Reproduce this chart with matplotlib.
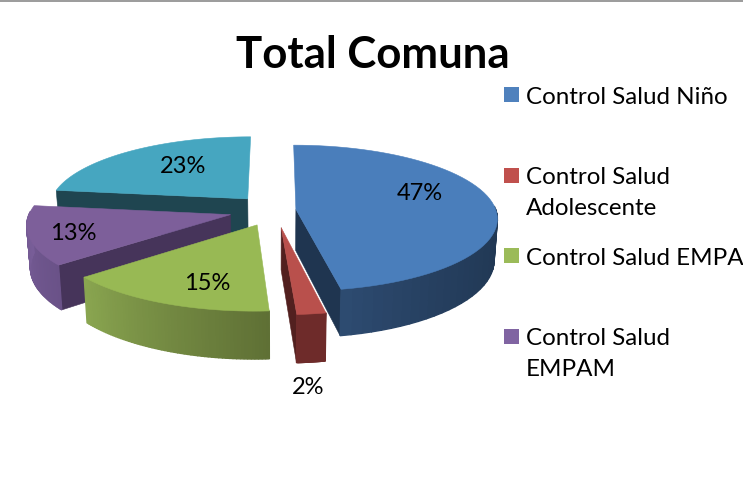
import numpy as np
import matplotlib
matplotlib.use("Agg")
import matplotlib.pyplot as plt
from matplotlib.colors import to_rgb
from matplotlib.patches import Polygon, Rectangle


# ===================================================
# DATA
# ===================================================

TITLE = "Total Comuna"
VALUES = [47, 2, 15, 13, 23]
LEGEND_LABELS = ["Control Salud Niño", "Control Salud\nAdolescente",
                 "Control Salud EMPA", "Control Salud\nEMPAM"]

# ===================================================
# STYLE
# ===================================================

TOP_COLORS = ["#4a7ebb", "#b9504c", "#98b954", "#7d5f9a", "#46a6c0"]
LEGEND_COLORS = ["#4f81bd", "#c0504d", "#9bbb59", "#8064a2"]
RADIAL_COLORS = ["#1f3550", "#52201f", "#5f7035", "#46345a", "#1f4550"]
# rim colour at the start and end of each slice (clockwise)
RIM_COLORS = [("#1f3550", "#2e4c72"), ("#6e2b2a", "#6e2b2a"), ("#5f7035", "#8aa650"),
              ("#6a5288", "#7a5f9a"), ("#1f4550", "#1f4550")]
EXPLODE = [0.105, 0.24, 0.22, 0.23, 0.21]
DRAW_ORDER = [4, 3, 2, 0, 1]

CX, CY = 275, 211
RX, KY = 200, 0.36
PERSP = 0.12
DEPTH = 41
BOTTOM_SHRINK = 0.985

LABEL_POS = [(420, 194), (308, 388), (207, 284), (73, 234), (183, 167)]
LEGEND_BOX_Y = [88, 169, 249, 330]
LEGEND_TEXT_Y = [98, 193, 259, 354]


# ===================================================
# PROJECTION
# ===================================================

def project(x, y, bottom=False):
    """Pie plane (y towards the viewer, radius 1) to image pixels."""
    f = 1 / (1 - PERSP * y)
    px = x * RX * f
    py = y * RX * KY * f
    if bottom:
        return CX + px * BOTTOM_SHRINK, CY + py + DEPTH * f
    return CX + px, CY + py


def rim_point(theta, apex):
    return apex[0] + np.sin(theta), apex[1] - np.cos(theta)


def mix(c0, c1, t):
    a, b = np.array(to_rgb(c0)), np.array(to_rgb(c1))
    return tuple(a + (b - a) * t)


# ===================================================
# DRAW
# ===================================================

def draw_slice(ax, i, t0, t1):
    mid = (t0 + t1) / 2
    apex = (EXPLODE[i] * np.sin(mid), -EXPLODE[i] * np.cos(mid))

    # flat cut faces, only those turned towards the viewer
    for theta, visible in [(t0, -np.sin(t0) > 0), (t1, np.sin(t1) > 0)]:
        if not visible:
            continue
        edge = rim_point(theta, apex)
        quad = [project(*apex), project(*edge), project(*edge, True), project(*apex, True)]
        ax.add_patch(Polygon(quad, fc=RADIAL_COLORS[i], ec=RADIAL_COLORS[i], lw=0.4))

    # outer rim as small shaded strips
    angles = np.linspace(t0, t1, 61)
    for a0, a1 in zip(angles[:-1], angles[1:]):
        if np.cos((a0 + a1) / 2) > 0.05:
            continue
        t = (a0 - t0) / (t1 - t0)
        col = mix(*RIM_COLORS[i], t ** 4 if i == 0 else t)
        p0, p1 = rim_point(a0, apex), rim_point(a1, apex)
        quad = [project(*p0), project(*p1), project(*p1, True), project(*p0, True)]
        ax.add_patch(Polygon(quad, fc=col, ec=col, lw=1.0))

    # top face
    top = [project(*apex)] + [project(*rim_point(a, apex)) for a in angles]
    ax.add_patch(Polygon(top, fc=TOP_COLORS[i], ec=TOP_COLORS[i], lw=0.4))


def main():
    fig = plt.figure(figsize=(7.43, 4.81), dpi=100)
    ax = fig.add_axes([0, 0, 1, 1])
    ax.set_xlim(0, 743)
    ax.set_ylim(481, 0)
    ax.axis("off")

    plt.rcParams["font.family"] = ["Lato", "DejaVu Sans"]

    ax.plot([0, 743], [2, 2], color="#8a8a8a", lw=1.2)
    ax.text(373, 55, TITLE, ha="center", va="center", fontsize=31.5, fontweight="bold")

    edges = np.cumsum([0] + VALUES) / sum(VALUES) * 2 * np.pi
    for i in DRAW_ORDER:
        draw_slice(ax, i, edges[i], edges[i + 1])

    for value, (x, y) in zip(VALUES, LABEL_POS):
        ax.text(x, y, f"{value}%", ha="center", va="center", fontsize=17)

    for label, col, by, ty in zip(LEGEND_LABELS, LEGEND_COLORS, LEGEND_BOX_Y, LEGEND_TEXT_Y):
        ax.add_patch(Rectangle((504, by), 15, 15, fc=col, ec="none"))
        ax.text(526, ty, label, ha="left", va="center", fontsize=17.4, linespacing=1.6)

    fig.savefig("out.png", dpi=100)


if __name__ == "__main__":
    main()
